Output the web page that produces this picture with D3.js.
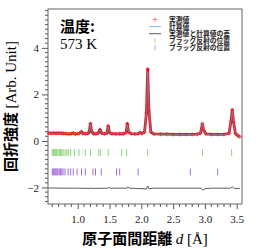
<!DOCTYPE html>
<html>
<head>
<meta charset="utf-8">
<script src="https://cdn.jsdelivr.net/npm/d3@7"></script>
<style>
  body { margin: 0; background: #fff; }
  .tick-label { font-family: "Liberation Serif", "Times New Roman", serif; font-size: 11px; fill: #222; }
  .cjk { font-family: "Noto Sans CJK JP", "Noto Sans CJK SC", sans-serif; font-weight: bold; }
  .serif { font-family: "Liberation Serif", "Times New Roman", serif; }
</style>
</head>
<body>
<div id="chart"></div>
<script>
// observed profile (d in Å, intensity)
const obsD = [0.54, 0.58, 0.62, 0.66, 0.70, 0.74, 0.78, 0.82, 0.86, 0.90, 0.93, 0.96, 1.00, 1.03, 1.06, 1.08,
  1.12, 1.16, 1.18, 1.20, 1.22, 1.25, 1.29, 1.32, 1.35, 1.38, 1.42, 1.46, 1.48, 1.50, 1.54, 1.60, 1.66, 1.72,
  1.76, 1.78, 1.80, 1.84, 1.90, 1.95, 1.98, 2.01, 2.05, 2.08, 2.10, 2.12, 2.15, 2.20, 2.30, 2.40, 2.50, 2.60,
  2.70, 2.80, 2.88, 2.93, 2.96, 2.98, 3.02, 3.10, 3.20, 3.30, 3.38, 3.41, 3.43, 3.45, 3.48, 3.52, 3.55];
const obsI = [0.34, 0.33, 0.34, 0.33, 0.34, 0.33, 0.32, 0.31, 0.30, 0.31, 0.34, 0.30, 0.31, 0.33, 0.40, 0.32,
  0.31, 0.32, 0.38, 0.74, 0.40, 0.31, 0.31, 0.33, 0.49, 0.33, 0.31, 0.34, 0.64, 0.36, 0.31, 0.30, 0.31, 0.31,
  0.36, 0.74, 0.38, 0.31, 0.30, 0.31, 0.36, 0.32, 0.38, 1.20, 3.08, 1.30, 0.38, 0.30, 0.29, 0.29, 0.28, 0.28,
  0.28, 0.28, 0.29, 0.33, 0.74, 0.45, 0.30, 0.28, 0.28, 0.28, 0.33, 0.85, 1.33, 0.80, 0.32, 0.22, 0.18];
// calculated profile at the same d values
const calcI = [0.33, 0.33, 0.33, 0.33, 0.33, 0.33, 0.32, 0.31, 0.31, 0.31, 0.33, 0.31, 0.31, 0.33, 0.39, 0.32,
  0.31, 0.32, 0.38, 0.73, 0.40, 0.31, 0.31, 0.33, 0.48, 0.33, 0.31, 0.34, 0.62, 0.36, 0.31, 0.30, 0.31, 0.31,
  0.36, 0.69, 0.38, 0.31, 0.30, 0.31, 0.35, 0.32, 0.38, 1.22, 2.98, 1.32, 0.38, 0.30, 0.29, 0.29, 0.28, 0.28,
  0.28, 0.28, 0.29, 0.33, 0.82, 0.46, 0.30, 0.28, 0.28, 0.28, 0.33, 0.84, 1.30, 0.80, 0.32, 0.22, 0.18];

// difference curve (obs - calc, shifted down)
const diffD = [0.54, 0.80, 1.00, 1.19, 1.21, 1.23, 1.47, 1.49, 1.51, 1.77, 1.79, 1.81, 2.08, 2.10, 2.12,
  2.20, 2.50, 2.94, 2.97, 3.00, 3.10, 3.40, 3.43, 3.46, 3.55];
const diffI = [-2.02, -2.03, -2.03, -2.04, -2.02, -2.04, -2.03, -2.00, -2.03, -2.03, -1.97, -2.03, -2.06,
  -1.94, -2.05, -2.03, -2.03, -2.03, -2.12, -2.05, -2.03, -2.03, -1.97, -2.04, -2.04];

// Bragg reflection positions, two phases
const braggGreen = [0.60, 0.62, 0.64, 0.655, 0.67, 0.69, 0.71, 0.73, 0.75, 0.77, 0.80, 0.83, 0.85, 0.89,
  0.95, 1.02, 1.12, 1.20, 1.33, 1.36, 1.48, 1.69, 1.77, 2.10, 2.96, 3.42];
const braggPurple = [0.60, 0.615, 0.63, 0.645, 0.66, 0.675, 0.69, 0.71, 0.73, 0.75, 0.77, 0.80, 0.85, 0.89,
  0.93, 0.99, 1.06, 1.12, 1.24, 1.28, 1.37, 1.61, 1.66, 1.95, 2.77, 3.20];
const braggRows = [-0.50, -1.33];

const xTicks = [1.0, 1.5, 2.0, 2.5, 3.0, 3.5];
const yTicks = [-2, 0, 2, 4];

const legendLabels = ["実測値", "計算値", "実測値と計算値の差", "ブラッグ反射の位置", "ブラッグ反射の位置"];

function draw() {
  const dimensions = {
    width: 267,
    height: 248,
    margin: { top: 9, right: 25, bottom: 44, left: 48 },
  };
  dimensions.innerWidth = dimensions.width - dimensions.margin.left - dimensions.margin.right;
  dimensions.innerHeight = dimensions.height - dimensions.margin.top - dimensions.margin.bottom;

  const svg = d3
    .select("#chart")
    .append("svg")
    .attr("width", dimensions.width)
    .attr("height", dimensions.height);

  const graph = svg
    .append("g")
    .attr("transform", `translate(${dimensions.margin.left}, ${dimensions.margin.top})`);

  // scales
  const xScale = d3.scaleLinear().domain([0.533, 3.583]).range([0, dimensions.innerWidth]);
  const yScale = d3.scaleLinear().domain([-2.71, 5.67]).range([dimensions.innerHeight, 0]);

  // axes (outward ticks, minor ticks drawn separately)
  const xAxis = graph
    .append("g")
    .attr("transform", `translate(0, ${dimensions.innerHeight})`)
    .call(d3.axisBottom(xScale).tickValues(xTicks).tickFormat(d3.format(".1f")).tickSize(5).tickPadding(6));
  xAxis
    .append("g")
    .selectAll("line")
    .data(d3.range(0.6, 3.59, 0.1).filter((v) => Math.abs(v * 2 - Math.round(v * 2)) > 0.01))
    .join("line")
    .attr("x1", (d) => xScale(d))
    .attr("x2", (d) => xScale(d))
    .attr("y2", 3)
    .attr("stroke", "#555");

  const yAxis = graph
    .append("g")
    .call(d3.axisLeft(yScale).tickValues(yTicks).tickSize(6).tickPadding(3));
  yAxis
    .append("g")
    .selectAll("line")
    .data(d3.range(-2.6, 5.61, 0.2).filter((v) => Math.abs(v / 2 - Math.round(v / 2)) > 0.01))
    .join("line")
    .attr("y1", (d) => yScale(d))
    .attr("y2", (d) => yScale(d))
    .attr("x2", -3)
    .attr("stroke", "#555");

  [xAxis, yAxis].forEach((ax) => {
    ax.select(".domain").remove();
    ax.selectAll(".tick line").attr("stroke", "#555");
    ax.selectAll(".tick text").attr("class", "tick-label").attr("fill", null);
  });

  // frame
  graph
    .append("rect")
    .attr("width", dimensions.innerWidth)
    .attr("height", dimensions.innerHeight)
    .attr("fill", "none")
    .attr("stroke", "#666")
    .attr("stroke-width", 1);

  // Bragg ticks
  const braggSets = [
    { pos: braggGreen, color: "#7ccf6a", row: braggRows[0] },
    { pos: braggPurple, color: "#9a5fd6", row: braggRows[1] },
  ];
  braggSets.forEach((s) => {
    graph
      .append("g")
      .selectAll("line")
      .data(s.pos)
      .join("line")
      .attr("x1", (d) => xScale(d))
      .attr("x2", (d) => xScale(d))
      .attr("y1", yScale(s.row + 0.15))
      .attr("y2", yScale(s.row - 0.15))
      .attr("stroke", s.color)
      .attr("stroke-width", 0.9);
  });

  // difference line
  const diffLine = d3
    .line()
    .x((d, i) => xScale(diffD[i]))
    .y((d) => yScale(d));
  graph
    .append("path")
    .datum(diffI)
    .attr("d", diffLine)
    .attr("fill", "none")
    .attr("stroke", "#333")
    .attr("stroke-width", 0.8);

  // observed: thick red band + "+" markers
  const profLine = d3
    .line()
    .x((d, i) => xScale(obsD[i]))
    .y((d) => yScale(d));
  graph
    .append("path")
    .datum(obsI)
    .attr("d", profLine)
    .attr("fill", "none")
    .attr("stroke", "#e3191c")
    .attr("stroke-width", 2.8)
    .attr("stroke-linejoin", "round");
  graph
    .append("g")
    .selectAll("path")
    .data(obsI)
    .join("path")
    .attr("transform", (d, i) => `translate(${xScale(obsD[i])}, ${yScale(d)})`)
    .attr("d", "M-2,0H2M0,-2V2")
    .attr("stroke", "#e3191c")
    .attr("stroke-width", 0.8);

  // calculated line
  graph
    .append("path")
    .datum(calcI)
    .attr("d", profLine)
    .attr("fill", "none")
    .attr("stroke", "#5fa8e0")
    .attr("stroke-width", 0.6);

  // temperature note
  svg.append("text").attr("class", "cjk").attr("x", 60).attr("y", 32)
    .style("font-size", "15px").text("温度:");
  svg.append("text").attr("class", "serif").attr("x", 60).attr("y", 49)
    .style("font-size", "15px").text("573 K");

  // legend
  const legend = svg.append("g").attr("transform", "translate(155, 19.5)");
  const rowH = 7.1;
  legendLabels.forEach((label, i) => {
    const g = legend.append("g").attr("transform", `translate(0, ${i * rowH})`);
    if (i === 0) {
      g.append("path").attr("d", "M-2.5,0H2.5M0,-2.5V2.5").attr("stroke", "#f07070").attr("stroke-width", 0.8);
    } else if (i === 1 || i === 2) {
      g.append("line").attr("x1", -6).attr("x2", 6)
        .attr("stroke", i === 1 ? "#5fa8e0" : "#333").attr("stroke-width", 0.8);
    } else {
      g.append("line").attr("y1", -2.5).attr("y2", 2.5)
        .attr("stroke", i === 3 ? "#9ad48c" : "#a784d8").attr("stroke-width", 0.8);
    }
    g.append("text")
      .attr("class", "cjk")
      .attr("x", 14)
      .attr("y", 2.4)
      .style("font-size", "6.8px")
      .attr("fill", "#222")
      .text(label);
  });

  // x-axis title
  const xTitle = svg
    .append("text")
    .attr("x", dimensions.margin.left + dimensions.innerWidth / 2)
    .attr("y", 244)
    .attr("text-anchor", "middle")
    .style("font-size", "15px");
  xTitle.append("tspan").attr("class", "cjk").text("原子面間距離 ");
  xTitle.append("tspan").attr("class", "serif").style("font-style", "italic").text("d");
  xTitle.append("tspan").attr("class", "serif").text(" [Å]");

  // y-axis title
  const yTitle = svg
    .append("text")
    .attr("transform", `translate(16, ${dimensions.margin.top + dimensions.innerHeight / 2}) rotate(-90)`)
    .attr("text-anchor", "middle")
    .style("font-size", "15px");
  yTitle.append("tspan").attr("class", "cjk").text("回折強度 ");
  yTitle.append("tspan").attr("class", "serif").text("[Arb. Unit]");
}

draw();
</script>
</body>
</html>
